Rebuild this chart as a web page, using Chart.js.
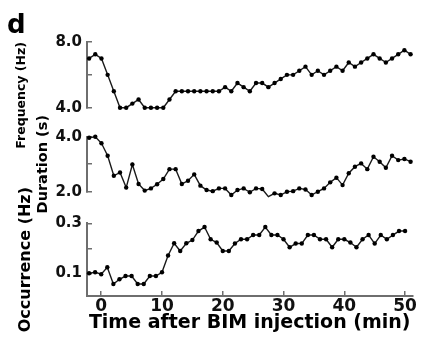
<!DOCTYPE html>
<html><head><meta charset="utf-8">
<script src="https://cdn.jsdelivr.net/npm/chart.js@4.4.1/dist/chart.umd.min.js"></script>
<style>
html,body{margin:0;padding:0;background:#fff;}
#wrap{position:relative;width:422px;height:337px;overflow:hidden;background:#fff;}
canvas{position:absolute;left:0;top:0;}
</style></head><body>
<div id="wrap">
<canvas id="c1" width="422" height="337"></canvas>
<canvas id="c2" width="422" height="337"></canvas>
<canvas id="c3" width="422" height="337"></canvas>
</div>
<script>
// ---- data (time in min after BIM injection) ----
const times = [-2,-1,0,1,2,3,4,5,6,7,8,9,10,11,12,13,14,15,16,17,18,19,20,21,22,23,24,25,26,27,28,29,30,31,32,33,34,35,36,37,38,39,40,41,42,43,44,45,46,47,48,49,50];
const frequencyHz = [7.0,7.25,7.0,6.0,5.0,4.0,4.0,4.25,4.5,4.0,4.0,4.0,4.0,4.5,5.0,5.0,5.0,5.0,5.0,5.0,5.0,5.0,5.25,5.0,5.5,5.25,5.0,5.5,5.5,5.25,5.5,5.75,6.0,6.0,6.25,6.5,6.0,6.25,6.0,6.25,6.5,6.25,6.75,6.5,6.75,7.0,7.25,7.0,6.75,7.0,7.25,7.5,7.25];
const durationS = [3.96,4.0,3.76,3.31,2.58,2.70,2.15,2.99,2.28,2.04,2.12,2.27,2.46,2.82,2.82,2.28,2.40,2.63,2.22,2.06,2.02,2.12,2.12,1.88,2.06,2.12,1.98,2.12,2.10,1.82,1.94,1.88,2.0,2.02,2.12,2.08,1.88,2.0,2.12,2.34,2.51,2.24,2.67,2.91,3.03,2.82,3.27,3.09,2.87,3.31,3.15,3.19,3.09];
const occurrenceHz = [0.100,0.104,0.096,0.124,0.057,0.076,0.089,0.089,0.057,0.057,0.089,0.089,0.104,0.171,0.220,0.189,0.220,0.233,0.269,0.285,0.236,0.223,0.189,0.189,0.219,0.236,0.236,0.253,0.253,0.285,0.253,0.253,0.236,0.204,0.219,0.219,0.253,0.253,0.236,0.236,0.204,0.236,0.236,0.223,0.204,0.236,0.253,0.219,0.253,0.236,0.253,0.269,0.269];

// ---- tick labels ----
const xTicks = [0,10,20,30,40,50];
const xTickLabels = ['0','10','20','30','40','50'];
const freqTicks = [4,6,8];
const freqTickLabels = ['4.0','','8.0'];
const durTicks = [2,3,4];
const durTickLabels = ['2.0','','4.0'];
const occTicks = [0.1,0.2,0.3];
const occTickLabels = ['0.1','','0.3'];

const FONT = '"DejaVu Sans", sans-serif';
const AXIS_COLOR = '#6e6e6e';
const X_MIN = -2.34, X_MAX = 51.2;
const Y_AXIS_WIDTH = 87;

function toPoints(vals){ return times.map((t,i)=>({x:t,y:vals[i]})); }

const panelLabel = {
  id:'panelLabel',
  afterDraw(chart){
    const ctx = chart.ctx;
    ctx.save();
    ctx.fillStyle = '#000';
    ctx.font = 'bold 26px ' + FONT;
    ctx.textBaseline = 'alphabetic';
    ctx.fillText('d', 7, 33);
    ctx.restore();
  }
};

function panel(id, values, cfg){
  const showX = !!cfg.showX;
  return new Chart(document.getElementById(id), {
    type:'line',
    data:{datasets:[{
      data: toPoints(values),
      borderColor:'#1a1a1a', borderWidth:1.4,
      pointRadius:2.2, pointBackgroundColor:'#000', pointBorderWidth:0,
      tension:0, clip:false, fill:false
    }]},
    options:{
      responsive:false, animation:false, devicePixelRatio:1, events:[],
      layout:{padding:{left:0,right:3,top:cfg.padTop,bottom:cfg.padBottom}},
      plugins:{legend:{display:false}, tooltip:{enabled:false}},
      scales:{
        x:{
          type:'linear', min:X_MIN, max:X_MAX, display:showX,
          afterBuildTicks:s=>{ s.ticks = xTicks.map(v=>({value:v})); },
          afterFit:s=>{ s.height = showX ? 41 : 0; },
          border:{display:true,color:AXIS_COLOR,width:2},
          grid:{drawOnChartArea:false,drawTicks:true,tickLength:-5,color:AXIS_COLOR,lineWidth:1.5},
          ticks:{padding:5,color:'#111',maxRotation:0,autoSkip:false,
            font:{family:FONT,weight:'bold',size:17},
            callback:(v,i)=>xTickLabels[i]},
          title:{display:true,text:'Time after BIM injection (min)',color:'#000',
            font:{family:FONT,weight:'bold',size:19},padding:{top:0,bottom:3}}
        },
        y:{
          type:'linear', min:cfg.yMin, max:cfg.yMax,
          afterBuildTicks:s=>{ s.ticks = cfg.ticks.map(v=>({value:v})); },
          afterFit:s=>{ s.width = Y_AXIS_WIDTH; },
          border:{display:true,color:AXIS_COLOR,width:2},
          grid:{drawOnChartArea:false,drawTicks:true,tickLength:-5,color:AXIS_COLOR,lineWidth:1.5},
          ticks:{padding:10,color:'#111',autoSkip:false,
            font:{family:FONT,weight:'bold',size:15},
            callback:(v,i)=>cfg.labels[i]},
          title:{display:true,text:cfg.title,color:'#000',align:cfg.titleAlign,
            font:{family:FONT,weight:'bold',size:cfg.titleSize},
            padding:{top:cfg.titlePad,bottom:0}}
        }
      }
    },
    plugins: cfg.extra ? [cfg.extra] : []
  });
}

panel('c1', frequencyHz, {yMin:4, yMax:8, ticks:freqTicks, labels:freqTickLabels,
  title:'Frequency (Hz)', titleSize:12.5, titlePad:14.5, titleAlign:'end',
  padTop:42, padBottom:337-107.7, extra:panelLabel});
panel('c2', durationS, {yMin:2, yMax:4, ticks:durTicks, labels:durTickLabels,
  title:'Duration (s)', titleSize:14.5, titlePad:34.3, titleAlign:'center',
  padTop:136.7, padBottom:337-191.7});
panel('c3', occurrenceHz, {yMin:0.009, yMax:0.3, ticks:occTicks, labels:occTickLabels,
  title:'Occurrence (Hz)', titleSize:16, titlePad:16.4, titleAlign:'center',
  padTop:223.3, padBottom:0, showX:true});
</script>
</body></html>
